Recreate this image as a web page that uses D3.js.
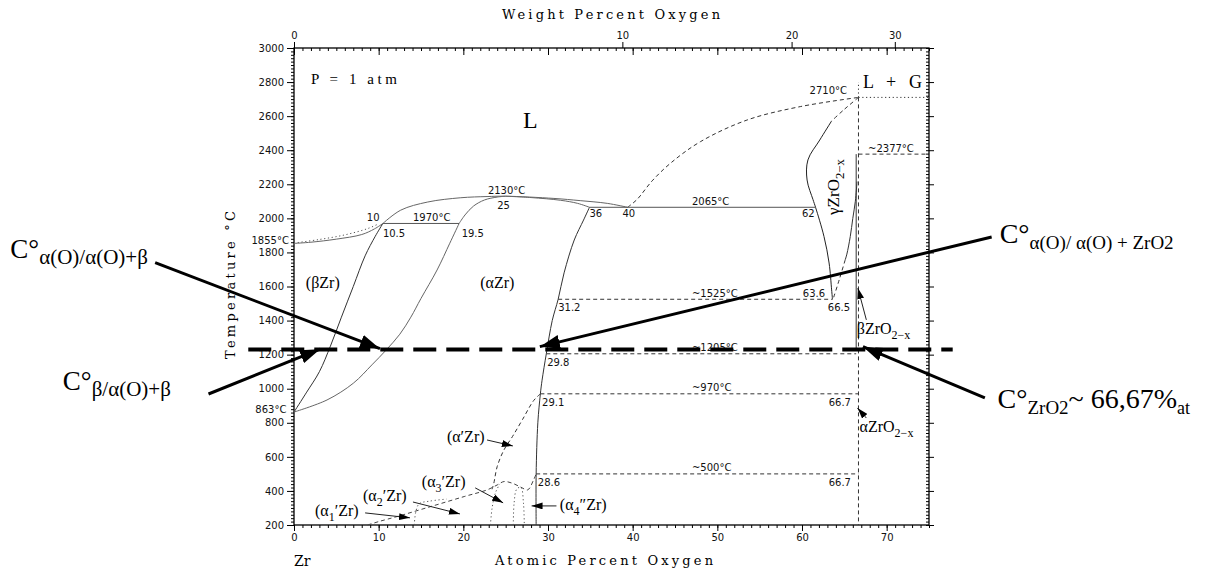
<!DOCTYPE html>
<html><head><meta charset="utf-8">
<script src="https://cdn.jsdelivr.net/npm/d3@7"></script>
<style>body{margin:0;background:#fff}</style>
</head><body>
<svg id="c" width="1220" height="570"></svg>
<script>
// ---------- axes data ----------
const xDomain = [0, 75];            // atomic percent oxygen
const yDomain = [200, 3000];        // temperature °C
const yTicks = d3.range(200, 3001, 200);
const yMinor = d3.range(200, 3001, 20);
const xTicks = d3.range(0, 71, 10);
const xMinor = d3.range(0, 76, 1);
const wtTicks = [0, 10, 20, 30];

// ---------- phase boundaries [at% O, °C] ----------
const liqLeftDotted = [[0,1855],[3,1876],[6,1903],[8.7,1940],[10,1968]];
const solBeta      = [[0,1853],[2,1860],[5,1878],[8,1905],[9.5,1938],[10.5,1970]];
const liquidus     = [[10.5,1970],[12.6,2048],[15.8,2096],[19.7,2121],[22.8,2128],[25,2130],[30.7,2117],[33.8,2104],[37,2088],[39.4,2065]];
const solAlphaL    = [[19.5,1970],[20.2,2020],[21.2,2072],[22.5,2108],[24,2125],[25,2130]];
const solAlphaR    = [[25,2130],[28,2122],[31.5,2106],[33.5,2088],[34.9,2065]];
const betaBound    = [[0,863],[1.5,980],[3,1100],[4.3,1250],[5.6,1420],[7,1600],[8.4,1780],[9.6,1895],[10.5,1970]];
const alphaBetaBnd = [[0,863],[3.9,934],[7,1032],[9.2,1140],[10.9,1228],[12.5,1320],[13.8,1420],[15,1530],[16.9,1697],[18.4,1854],[19.5,1970]];
const alphaOBound  = [[34.9,2065],[34.2,1990],[33.1,1873],[31.9,1680],[31.2,1525],[30.5,1400],[29.8,1205],[29.3,1050],[29.1,970],[28.8,800],[28.6,500],[28.6,200]];
const liqRight     = [[39.4,2065],[40.5,2110],[42.3,2220],[44.5,2325],[48,2450],[53.5,2577],[59.8,2656],[66.67,2710]];
const gammaLDash   = [[66.67,2710],[65,2640],[63.5,2572]];
const gammaL       = [[63.5,2572],[62.1,2460],[60.7,2343],[60.6,2225],[61.3,2110],[61.6,2065],[62.6,1893],[63.2,1738],[63.5,1580],[63.6,1525]];
const gammaR       = [[66.5,2216],[66.3,2100],[66,2000],[65.7,1893],[65.3,1790],[65.1,1756]];
const gammaRDash   = [[65.1,1756],[64.4,1640],[63.7,1530]];
const zro2Solid    = [[66.4,2377],[66.4,1225]];
const zro2Dash     = [[66.67,2710],[66.67,200]];
const zro2Dotted   = [[66.67,2710],[66.67,2800]];
const alphaPrime   = [[29.1,970],[28.3,930],[27,820],[25.8,719],[24.8,641],[24,543],[23.6,445],[23.4,410]];
const orderDome    = [[8.7,200],[10,220],[12.2,250],[16.2,309],[20.1,367],[22.8,406],[24,435],[24.8,455],[25.8,445],[26.8,422],[27.6,406],[28.3,465],[28.6,500]];
const dotted1      = [[14.2,200],[14.4,280],[14.8,325],[16,340],[18,352]];
const dotted2      = [[23.2,200],[23.4,300],[23.8,390],[24.3,440]];
const dotted3      = [[25.9,200],[26,330],[26.3,410],[26.8,422],[27.1,330],[27.2,200]];

// isotherms: [T, from at%, to at%, style]
const isotherms = [
  [1970, 10.5, 19.5, 'solid'],
  [2065, 34.9, 61.6, 'solid'],
  [1525, 31.2, 63.6, 'dash'],
  [1205, 29.8, 66.4, 'dash'],
  [970, 29.1, 66.67, 'dash'],
  [500, 28.6, 66.67, 'dash'],
  [2377, 66.67, 75, 'dash'],
  [2710, 66.67, 75, 'dot']
];

// numeric labels: [text, at%, °C, anchor]
const numLabels = [
  ['2710°C', 60.9, 2730, 'start'], ['~2377°C', 67.8, 2390, 'start'],
  ['2130°C', 22.9, 2143, 'start'], ['25', 24.0, 2055, 'start'],
  ['10', 8.6, 1985, 'start'], ['1970°C', 14.05, 1985, 'start'],
  ['10.5', 10.5, 1891, 'start'], ['19.5', 19.8, 1891, 'start'],
  ['1855°C', -0.6, 1850, 'end'], ['863°C', -0.9, 858, 'end'],
  ['36', 34.9, 2008, 'start'], ['40', 38.8, 2008, 'start'],
  ['2065°C', 47.0, 2079, 'start'], ['62', 60.0, 2008, 'start'],
  ['31.2', 31.2, 1456, 'start'], ['~1525°C', 47.0, 1539, 'start'],
  ['63.6', 60.1, 1539, 'start'], ['66.5', 63.05, 1456, 'start'],
  ['29.8', 29.9, 1134, 'start'], ['~1205°C', 47.0, 1222, 'start'],
  ['~970°C', 47.0, 987, 'start'], ['29.1', 29.3, 899, 'start'],
  ['66.7', 63.15, 899, 'start'], ['~500°C', 47.0, 517, 'start'],
  ['28.6', 28.8, 429, 'start'], ['66.7', 63.15, 429, 'start']
];

// phase labels: [parts, at%, °C, size]
const phaseLabels = [
  [[['(βZr)']], 1.4, 1591, 16],
  [[['(αZr)']], 22.0, 1591, 16],
  [[['(α′Zr)']], 18.06, 688, 16],
  [[['(α'],['3','s'],['′Zr)']], 15.1, 424, 16],
  [[['(α'],['2','s'],['′Zr)']], 8.15, 341, 16],
  [[['(α'],['1','s'],['′Zr)']], 2.48, 253, 16],
  [[['(α'],['4','s'],['″Zr)']], 31.4, 289, 16],
  [[['βZrO'],['2−x','s']], 66.47, 1321, 16],
  [[['αZrO'],['2−x','s']], 66.8, 746, 16]
];

// small arrows: [from at%, °C, to at%, °C]
const smallArrows = [
  [22.8, 699, 25.85, 664],
  [21.4, 418, 24.7, 330],
  [14.05, 335, 19.6, 265],
  [8.4, 271, 13.7, 242],
  [31.0, 312, 28.06, 312],
  [67.6, 1404, 66.6, 1591],
  [67.6, 828, 66.55, 887]
];

// overlay: thick dashed isotherm and annotation arrows
const refIsotherm = [1230, -5.4, 77.8];
const bigArrows = [
  [-16.4, 1740, 10.15, 1235],
  [-10.1, 969, 3.07, 1232],
  [82.4, 1891, 29.04, 1247],
  [81.6, 946, 67.2, 1247]
];
const bigLabels = [
  [[['C°',27],['α(O)/α(O)+β',21,'s']], -33.5, 1767],
  [[['C°',27],['β/α(O)+β',21,'s']], -27.3, 993],
  [[['C°',28],['α(O)/ α(O) + ZrO2',19,'s']], 83.35, 1855],
  [[['C°',28],['ZrO2',19,'s'],['~ 66,67%',28],['at',18,'s']], 83.1, 887]
];

// ---------- drawing ----------
const svg = d3.select('#c');
const x = d3.scaleLinear().domain(xDomain).range([294, 929]);
const y = d3.scaleLinear().domain(yDomain).range([525, 48]);
const wtToAt = w => { const o = w/15.999, z = (100-w)/91.224; return 100*o/(o+z); };

const defs = svg.append('defs');
function marker(id, w, h) {
  defs.append('marker').attr('id', id).attr('viewBox', `0 0 ${w} ${h}`)
    .attr('refX', w).attr('refY', h/2).attr('markerWidth', w).attr('markerHeight', h)
    .attr('markerUnits', 'userSpaceOnUse').attr('orient', 'auto')
    .append('path').attr('d', `M0,0L${w},${h/2}L0,${h}Z`).attr('fill', '#000');
}
marker('bigHead', 20, 14);
marker('smallHead', 11, 7);

// axes
const fmt = d3.format('d');
const axisFont = g => g.attr('font-family', 'DejaVu Sans').attr('font-size', 10).call(s => s.select('.domain').remove());
svg.append('g').attr('transform', `translate(${x(0)},0)`)
  .call(d3.axisLeft(y).tickValues(yMinor).tickSize(3).tickFormat('')).call(axisFont);
svg.append('g').attr('transform', `translate(${x(0)},0)`)
  .call(d3.axisLeft(y).tickValues(yTicks).tickSize(7).tickPadding(3).tickFormat(fmt)).call(axisFont);
svg.append('g').attr('transform', `translate(${x(75)},0)`)
  .call(d3.axisLeft(y).tickValues(yMinor).tickSize(3).tickFormat('')).call(axisFont);
svg.append('g').attr('transform', `translate(${x(75)},0)`)
  .call(d3.axisRight(y).tickValues(yTicks).tickSize(5).tickFormat('')).call(axisFont);
svg.append('g').attr('transform', `translate(0,${y(200)})`)
  .call(d3.axisBottom(x).tickValues(xMinor).tickSize(3).tickFormat('')).call(axisFont);
svg.append('g').attr('transform', `translate(0,${y(200)})`)
  .call(d3.axisBottom(x).tickValues(xTicks).tickSize(6).tickPadding(3).tickFormat(fmt)).call(axisFont);
svg.append('g').attr('transform', `translate(0,${y(3000)})`)
  .call(d3.axisBottom(x).tickValues(xMinor).tickSize(3).tickFormat('')).call(axisFont);
svg.append('g').attr('transform', `translate(0,${y(3000)})`)
  .call(d3.axisBottom(x).tickValues(xTicks).tickSize(7).tickFormat('')).call(axisFont);
svg.append('g').attr('transform', `translate(0,${y(3000)})`)
  .call(d3.axisTop(x).tickValues(wtTicks.map(wtToAt)).tickFormat((d,i) => wtTicks[i]).tickSize(6).tickPadding(3)).call(axisFont);
svg.selectAll('.tick line').attr('stroke', '#000');
svg.selectAll('.tick text').attr('fill', '#111');

svg.append('rect').attr('x', x(0)).attr('y', y(3000))
  .attr('width', x(75) - x(0)).attr('height', y(200) - y(3000))
  .attr('fill', 'none').attr('stroke', '#000').attr('stroke-width', 1.3);

// axis titles
const titleFont = 'DejaVu Serif';
svg.append('text').attr('x', 611).attr('y', 19).attr('text-anchor', 'middle')
  .attr('font-family', titleFont).attr('font-size', 13).attr('textLength', 218).attr('lengthAdjust', 'spacing')
  .text('Weight Percent Oxygen');
svg.append('text').attr('x', 604).attr('y', 565).attr('text-anchor', 'middle')
  .attr('font-family', titleFont).attr('font-size', 13).attr('textLength', 218).attr('lengthAdjust', 'spacing')
  .text('Atomic Percent Oxygen');
svg.append('text').attr('x', x(0)).attr('y', 566)
  .attr('font-family', titleFont).attr('font-size', 14).text('Zr');
svg.append('text').attr('transform', `translate(235,285) rotate(-90)`).attr('text-anchor', 'middle')
  .attr('font-family', titleFont).attr('font-size', 13).attr('textLength', 148).attr('lengthAdjust', 'spacing')
  .text('Temperature °C');

// phase lines
const crv = d3.line().x(d => x(d[0])).y(d => y(d[1])).curve(d3.curveCatmullRom.alpha(0.5));
const lin = d3.line().x(d => x(d[0])).y(d => y(d[1]));
const plot = svg.append('g').attr('fill', 'none');
function draw(data, style, color, gen) {
  const p = plot.append('path').attr('d', (gen || crv)(data)).attr('stroke', color || '#444').attr('stroke-width', 1);
  if (style === 'dash') p.attr('stroke-dasharray', '4,3');
  if (style === 'dot') p.attr('stroke-dasharray', '1.2,2.6');
  return p;
}
draw(liqLeftDotted, 'dot', '#555');
draw(solBeta, 'solid', '#666');
draw(liquidus, 'solid', '#666');
draw(solAlphaL, 'solid', '#666');
draw(solAlphaR, 'solid', '#666');
draw(betaBound, 'solid', '#333');
draw(alphaBetaBnd, 'solid', '#666');
draw(alphaOBound, 'solid', '#333');
draw(liqRight, 'dash', '#333');
draw(gammaLDash, 'dash', '#333');
draw(gammaL, 'solid', '#222');
draw(gammaR, 'solid', '#333');
draw(gammaRDash, 'dash', '#333');
draw(zro2Solid, 'solid', '#333', lin);
draw(zro2Dash, 'dash', '#333', lin);
draw(zro2Dotted, 'dot', '#333', lin);
draw(alphaPrime, 'dash', '#333');
draw(orderDome, 'dash', '#444');
draw(dotted1, 'dot', '#555');
draw(dotted2, 'dot', '#555');
draw(dotted3, 'dot', '#555');
isotherms.forEach(([T, a, b, s]) => draw([[a, T], [b, T]], s, s === 'solid' ? '#555' : '#333', lin));

// numeric labels
svg.append('g').attr('font-family', 'DejaVu Sans').attr('font-size', 10).attr('fill', '#111')
  .selectAll('text').data(numLabels).join('text')
  .attr('x', d => x(d[1])).attr('y', d => y(d[2])).attr('text-anchor', d => d[3]).text(d => d[0]);

// phase text helper
function rich(g, parts, px, py, size, family) {
  const t = g.append('text').attr('x', px).attr('y', py).attr('font-family', family).attr('font-size', size);
  let low = false;
  parts.forEach(p => {
    const sub = p[1] === 's';
    const ts = t.append('tspan').text(p[0]);
    if (sub && !low) { ts.attr('dy', size*0.3).attr('font-size', size*0.75); low = true; }
    else if (sub) ts.attr('font-size', size*0.75);
    else if (low) { ts.attr('dy', -size*0.3); low = false; }
  });
  return t;
}
const pl = svg.append('g').attr('fill', '#000');
phaseLabels.forEach(([parts, a, T, s]) => rich(pl, parts, x(a), y(T), s, 'Liberation Serif'));
rich(pl, [['γZrO'], ['2−x', 's']], 0, 0, 17, 'Liberation Serif')
  .attr('text-anchor', 'middle').attr('transform', `translate(${x(64.4)},${y(2184)}) rotate(-90)`);
pl.append('text').attr('x', x(2.0)).attr('y', y(2789)).attr('font-family', 'Liberation Serif')
  .attr('font-size', 15).attr('textLength', 86).attr('lengthAdjust', 'spacing').text('P = 1 atm');
pl.append('text').attr('x', x(27.9)).attr('y', y(2530)).attr('text-anchor', 'middle')
  .attr('font-family', 'Liberation Serif').attr('font-size', 24).text('L');
pl.append('text').attr('x', x(67.2)).attr('y', y(2765)).attr('font-family', 'Liberation Serif')
  .attr('font-size', 18).attr('textLength', 59).attr('lengthAdjust', 'spacing').text('L + G');

// small arrows
svg.append('g').selectAll('line').data(smallArrows).join('line')
  .attr('x1', d => x(d[0])).attr('y1', d => y(d[1])).attr('x2', d => x(d[2])).attr('y2', d => y(d[3]))
  .attr('stroke', '#222').attr('stroke-width', 1).attr('marker-end', 'url(#smallHead)');

// overlay
svg.append('line').attr('x1', x(refIsotherm[1])).attr('x2', x(refIsotherm[2]))
  .attr('y1', y(refIsotherm[0])).attr('y2', y(refIsotherm[0]))
  .attr('stroke', '#000').attr('stroke-width', 4).attr('stroke-dasharray', '23,10');
svg.append('g').selectAll('line').data(bigArrows).join('line')
  .attr('x1', d => x(d[0])).attr('y1', d => y(d[1])).attr('x2', d => x(d[2])).attr('y2', d => y(d[3]))
  .attr('stroke', '#000').attr('stroke-width', 3).attr('marker-end', 'url(#bigHead)');

const bl = svg.append('g').attr('fill', '#000').attr('font-family', 'Liberation Serif');
bigLabels.forEach(([parts, a, T]) => {
  const t = bl.append('text').attr('x', x(a)).attr('y', y(T));
  let low = false;
  parts.forEach(p => {
    const ts = t.append('tspan').text(p[0]).attr('font-size', p[1]);
    const sub = p[2] === 's';
    if (sub && !low) { ts.attr('dy', 6); low = true; }
    else if (!sub && low) { ts.attr('dy', -6); low = false; }
  });
});
</script>
</body></html>
